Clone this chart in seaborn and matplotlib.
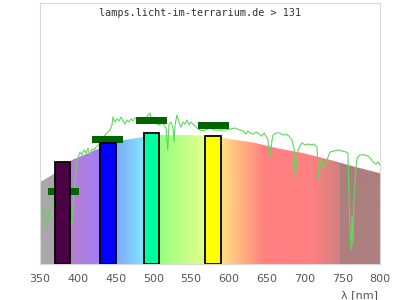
import numpy as np
import pandas as pd
import matplotlib
matplotlib.use("Agg")
import matplotlib.pyplot as plt
from matplotlib.colors import LinearSegmentedColormap, to_rgb
import seaborn as sns

# ---------------- data ----------------
title = "lamps.licht-im-terrarium.de > 131"
x_ticks = [350, 400, 450, 500, 550, 600, 650, 700, 750, 800]

# reference (sun-like) spectrum envelope shown as coloured area
area_nm = [350, 355, 366, 392, 427, 450, 487, 508, 550, 580, 600, 633, 665, 700, 735, 766, 800]
area_val = [31.4, 32.2, 34.1, 39.8, 44.1, 46.9, 48.7, 49.4, 49.4, 49.0, 47.9, 46.5, 44.3, 42.4, 39.8, 37.3, 34.8]

# measured spectrum (green line)
line_nm = [351.3, 354.0, 356.6, 359.3, 361.9, 364.6, 367.2, 369.9, 379.1, 389.7, 391.0, 392.4,
           393.7, 396.3, 397.6, 400.3, 402.9, 405.6, 408.2, 410.9, 413.5, 416.2, 418.8, 421.5,
           424.1, 426.8, 436.0, 442.6, 445.3, 446.6, 449.3, 451.9, 454.6, 457.2, 459.9, 462.5,
           465.1, 467.8, 470.4, 473.1, 475.7, 482.4, 489.0, 495.6, 498.2, 502.2, 506.2, 508.8,
           511.5, 514.1, 516.8, 519.0, 520.7, 523.4, 526.0, 527.4, 528.7, 531.3, 534.0, 536.6,
           539.3, 541.9, 544.6, 547.2, 549.9, 552.5, 555.1, 557.8, 561.8, 565.7, 575.0, 581.6,
           588.2, 594.9, 601.5, 608.1, 614.7, 618.7, 622.6, 625.3, 627.9, 631.9, 635.9, 639.9,
           643.8, 646.5, 649.1, 651.8, 654.4, 657.1, 658.4, 662.4, 667.6, 671.6, 675.6, 679.6,
           683.5, 686.2, 687.5, 689.8, 691.5, 694.1, 696.8, 700.7, 704.7, 708.7, 712.6, 716.6,
           717.9, 719.3, 720.6, 723.2, 725.9, 728.5, 731.2, 733.8, 739.1, 744.4, 749.7, 755.0,
           757.6, 759.0, 760.3, 761.6, 762.9, 764.3, 765.6, 768.2, 769.6, 773.5, 778.8, 784.1,
           788.1, 790.7, 794.7, 797.4, 800.0]
line_val = [18.8, 21.1, 16.1, 13.8, 19.9, 20.7, 24.5, 27.6, 28.4, 22.6, 14.2, 16.1,
            22.6, 30.3, 36.8, 40.6, 42.9, 41.8, 43.7, 42.5, 44.4, 41.8, 44.1, 43.7,
            44.8, 45.2, 49.4, 51.3, 53.3, 56.3, 54.4, 55.6, 54.8, 56.3, 54.8, 53.6,
            55.2, 54.4, 55.6, 54.8, 55.9, 55.9, 55.6, 57.9, 55.2, 54.4, 53.3, 53.3,
            54.8, 53.3, 52.1, 43.7, 53.3, 54.4, 52.1, 46.7, 53.3, 57.1, 54.4, 52.5,
            54.4, 53.6, 55.2, 53.3, 54.4, 53.6, 52.9, 52.1, 51.3, 51.0, 52.1, 51.3,
            51.3, 51.3, 51.7, 52.1, 51.3, 51.0, 49.8, 51.0, 50.2, 49.8, 50.6, 49.8,
            49.0, 50.2, 49.0, 47.5, 41.0, 47.5, 49.4, 50.2, 50.2, 49.4, 49.8, 49.0,
            47.5, 44.4, 33.3, 39.1, 43.7, 45.2, 46.4, 45.6, 46.0, 45.6, 46.0, 44.8,
            37.2, 32.2, 37.9, 39.8, 36.8, 37.9, 41.0, 42.9, 43.3, 43.7, 43.3, 42.9,
            42.5, 25.7, 13.0, 5.4, 18.8, 7.3, 24.5, 36.8, 40.6, 41.8, 41.8, 41.4,
            40.2, 39.1, 38.3, 39.1, 37.9]

# lamp bands (bars) and their peak markers
band_center = [380, 440, 498, 579]
band_value = [39.0, 46.4, 50.2, 49.2]
band_color = ["#4b0046", "#0000ff", "#00ff9f", "#ffff00"]
peak_center = [381, 439, 497, 580]
peak_value = [27.8, 47.8, 55.1, 53.1]

# ---------------- figure ----------------
plt.rcParams["font.family"] = ["DejaVu Sans"]
fig = plt.figure(figsize=(4, 3), dpi=100)
ax = fig.add_axes([0.1, 0.12, 0.85, 0.87])
ax.set_xlim(350, 800)
ax.set_ylim(0, 100)

# spectral coloured area
stops = [(350, "#aba6ab"), (369, "#aba6ab"), (370, "#b280c4"), (390, "#b680ca"),
         (430, "#a27cff"), (440, "#8088ff"), (450, "#80a6ff"), (488, "#80e8ff"),
         (498, "#80ffc8"), (508, "#96ff80"), (568, "#e4ff8c"), (580, "#fff080"),
         (590, "#ffe080"), (638, "#ff9080"), (648, "#ff8080"), (709, "#ff8080"),
         (747, "#d28080"), (748, "#ad7f7f"), (800, "#ad7f7f")]
cmap = LinearSegmentedColormap.from_list(
    "spec", [((w - 350) / 450, c) for w, c in stops])
grad = cmap(np.linspace(0, 1, 900))[None, :, :3]
poly = ax.fill_between(area_nm, 0, area_val, facecolor="none", edgecolor="none", zorder=1)
im = ax.imshow(grad, extent=[350, 800, 0, 100], aspect="auto", zorder=1,
               interpolation="bilinear")
im.set_clip_path(poly.get_paths()[0], transform=ax.transData)

# measured spectrum line
df = pd.DataFrame({"nm": line_nm, "val": line_val})
sns.lineplot(data=df, x="nm", y="val", ax=ax, color="#5fd85a", linewidth=0.8,
             sort=False, zorder=2)

# peak markers
ax.bar(peak_center, [2.7] * 4, bottom=[v - 1.35 for v in peak_value], width=41,
       color="#006400", zorder=3, linewidth=0)

# lamp band bars
ax.bar(band_center, band_value, width=20, color=band_color, edgecolor="black",
       linewidth=1.3, zorder=4)

# styling
ax.set_xticks(x_ticks)
ax.set_xticklabels([str(t) for t in x_ticks])
ax.set_yticks([])
ax.tick_params(axis="x", length=0, pad=7, labelsize=8, labelcolor="#555555")
ax.set_xlabel("")
ax.set_ylabel("")
for s in ax.spines.values():
    s.set_color("#d9d9d9")
    s.set_linewidth(0.8)
    s.set_zorder(5)

fig.text(0.5, 1 - 12.5 / 300, title, ha="center", va="center",
         family="DejaVu Sans Mono", fontsize=7.3, color="#333333")
fig.text(0.945, 1 - 295 / 300, "λ [nm]", ha="right", va="center",
         fontsize=8, color="#555555")

fig.savefig("out.png", dpi=100)
